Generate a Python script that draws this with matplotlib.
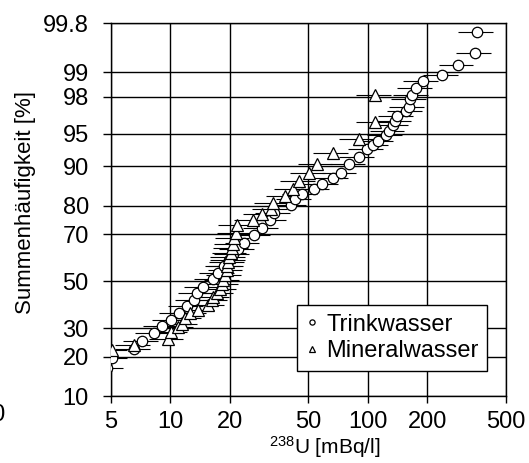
import numpy as np
import matplotlib
matplotlib.use('Agg')
import matplotlib.pyplot as plt
from statistics import NormalDist

plt.rcParams['font.family'] = ['Liberation Sans', 'DejaVu Sans']
plt.rcParams['mathtext.default'] = 'regular'

# Trinkwasser: 238U [mBq/l] and cumulative frequency [%]
trink_u = [4.8, 5.04, 6.56, 7.18, 8.25, 9.03, 10.1, 11.0, 12.2, 13.2, 13.6, 14.6,
           16.5, 17.5, 18.7, 19.8, 20.8, 22.0, 23.5, 26.6, 29.1, 32.0, 33.5, 40.6,
           42.8, 46.1, 53.1, 58.6, 66.2, 72.8, 80.6, 89.6, 99.2, 105.6, 112, 123.6,
           127.6, 133.6, 137.6, 140.5, 156, 160.7, 164, 167.2, 176, 189, 238, 285,
           350, 357]
trink_p = [16.5, 19.6, 22.4, 25.1, 28.0, 30.7, 33.4, 36.2, 39.2, 41.6, 44.5, 47.4,
           50.8, 53.4, 56.5, 59.5, 62.0, 64.0, 66.5, 69.6, 72.2, 75.2, 77.5, 80.2,
           81.9, 83.5, 84.7, 86.0, 87.4, 88.7, 90.4, 91.7, 92.9, 93.5, 94.1, 94.8,
           95.3, 95.9, 96.3, 96.7, 97.1, 97.4, 97.9, 98.1, 98.45, 98.7, 98.92, 99.2,
           99.46, 99.73]

# Mineralwasser
mineral_u = [5.04, 6.54, 9.69, 10.1, 10.9, 11.4, 11.9, 12.6, 13.8, 15.5, 16.2, 16.5,
             17.3, 17.9, 18.3, 18.5, 18.9, 19.3, 19.4, 19.6, 19.9, 20.2, 20.5, 20.7,
             20.9, 21.4, 21.8, 26.2, 29.0, 32.3, 33.2, 38.1, 41.8, 45.0, 50.5, 55.1,
             66.2, 89.6, 109, 109]
mineral_p = [22.1, 23.8, 25.8, 28.6, 30.3, 31.6, 33.9, 35.9, 37.5, 39.4, 41.5, 42.8,
             44.5, 46.5, 48.5, 50.4, 52.5, 54.9, 56.8, 58.5, 60.4, 62.3, 64.2, 66.0,
             68.3, 70.5, 73.4, 75.2, 77.4, 78.8, 80.9, 82.8, 84.8, 86.8, 88.5, 90.5,
             92.4, 94.3, 96.2, 98.1]

rel_err = 0.2  # relative measurement uncertainty

x_ticks = [5, 10, 20, 50, 100, 200, 500]
y_ticks = [10, 20, 30, 50, 70, 80, 90, 95, 98, 99, 99.8]

nd = NormalDist()


def prob_fwd(p):
    p = np.clip(np.asarray(p, dtype=float) / 100, 1e-9, 1 - 1e-9)
    return np.vectorize(nd.inv_cdf, otypes=[float])(p)


def prob_inv(z):
    z = np.asarray(z, dtype=float)
    return np.vectorize(nd.cdf, otypes=[float])(z) * 100


fig = plt.figure(figsize=(5.29, 4.63), dpi=100)
ax = fig.add_axes([0.2098, 0.1447, 0.7467, 0.8056])

tu = np.array(trink_u)
mu = np.array(mineral_u)
ax.errorbar(tu, trink_p, xerr=rel_err * tu, fmt='none', ecolor='black',
            elinewidth=0.8, capsize=0, zorder=2)
ax.errorbar(mu, mineral_p, xerr=rel_err * mu, fmt='none', ecolor='black',
            elinewidth=0.8, capsize=0, zorder=2)
ax.plot(tu, trink_p, 'o', ms=7.5, mfc='white', mec='black', mew=0.9,
        label='Trinkwasser', zorder=3)
ax.plot(mu, mineral_p, '^', ms=8, mfc='white', mec='black', mew=0.9,
        label='Mineralwasser', zorder=3)

ax.set_xscale('log')
ax.set_yscale('function', functions=(prob_fwd, prob_inv))
ax.set_xlim(5, 500)
ax.set_ylim(10, 99.8)

ax.set_xticks(x_ticks)
ax.set_xticklabels([str(v) for v in x_ticks])
ax.xaxis.set_minor_locator(matplotlib.ticker.NullLocator())
ax.set_yticks(y_ticks)
ax.set_yticklabels([str(v) for v in y_ticks])
ax.yaxis.set_minor_locator(matplotlib.ticker.NullLocator())

ax.tick_params(axis='both', labelsize=17, direction='out', width=1, color='black')
ax.tick_params(axis='x', length=5, pad=6)
ax.tick_params(axis='y', length=6, pad=10)
ax.grid(True, color='black', linewidth=1)
for s in ax.spines.values():
    s.set_linewidth(1)

ax.set_xlabel('$^{238}$U [mBq/l]', fontsize=15)
ax.xaxis.set_label_coords(0.54, -0.101)
ax.set_ylabel('Summenhäufigkeit [%]', fontsize=16)
ax.yaxis.set_label_coords(-0.19, 0.52)

leg = ax.legend(loc='lower left', bbox_to_anchor=(0.47, 0.068), fontsize=17,
                markerscale=0.5, frameon=True, fancybox=False, framealpha=1,
                edgecolor='black', borderpad=0.35, labelspacing=0.2,
                handlelength=0.6, handletextpad=0.3, borderaxespad=0)
leg.get_frame().set_linewidth(1)

fig.text(0.0104, 0.104, '10', ha='right', va='center', fontsize=17)

fig.savefig('out.png', dpi=100)
